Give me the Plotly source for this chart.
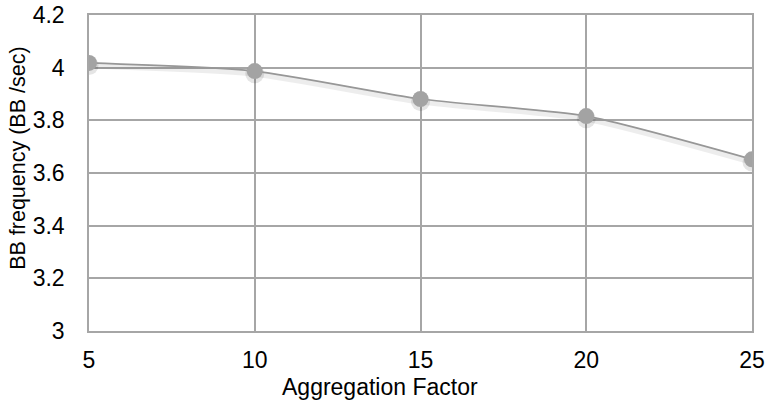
import plotly.graph_objects as go

# Aggregation factor vs. BB frequency
aggregation_factor = [5, 10, 15, 20, 25]
bb_frequency = [4.018, 3.987, 3.881, 3.816, 3.652]

y_ticks = [3, 3.2, 3.4, 3.6, 3.8, 4, 4.2]
y_tick_labels = ["3", "3.2", "3.4", "3.6", "3.8", "4", "4.2"]
x_ticks = [5, 10, 15, 20, 25]

x_title = "Aggregation Factor"
y_title = "BB frequency (BB /sec)"

grid = "#a6a6a6"
font = "Liberation Sans, Arial, sans-serif"

fig = go.Figure()

# soft drop shadow under the line and markers
fig.add_trace(go.Scatter(
    x=aggregation_factor, y=[v - 0.01 for v in bb_frequency],
    mode="lines+markers",
    line=dict(color="rgba(0,0,0,0.07)", width=6, shape="spline", smoothing=0.6),
    marker=dict(size=19, color="rgba(0,0,0,0.10)"),
    hoverinfo="skip", showlegend=False,
))

fig.add_trace(go.Scatter(
    x=aggregation_factor, y=bb_frequency,
    mode="lines+markers",
    line=dict(color="#979797", width=1.7, shape="spline", smoothing=0.6),
    marker=dict(size=16, color="#a3a3a3"),
    showlegend=False,
))

# axis titles placed as paper-anchored text
fig.add_annotation(
    text=x_title, xref="paper", yref="paper", x=0.439, y=-0.178,
    xanchor="center", yanchor="middle", showarrow=False,
    font=dict(family=font, size=23, color="#000"),
)
fig.add_annotation(
    text=y_title, xref="paper", yref="paper", x=-0.107, y=0.545,
    xanchor="center", yanchor="middle", textangle=-90, showarrow=False,
    font=dict(family=font, size=21.5, color="#000"),
)

fig.update_layout(
    width=765, height=402,
    margin=dict(l=89, r=13, t=15, b=71),
    paper_bgcolor="white", plot_bgcolor="white",
    font=dict(family=font, size=23, color="#000"),
    xaxis=dict(
        range=[5, 25], tickvals=x_ticks, showgrid=True, gridcolor=grid, gridwidth=1.5,
        zeroline=False, showline=True, linecolor=grid, linewidth=1.5, mirror=True,
        ticks="", ticklen=0, ticklabelstandoff=8, automargin=False,
    ),
    yaxis=dict(
        range=[3, 4.2], tickvals=y_ticks, ticktext=y_tick_labels,
        showgrid=True, gridcolor=grid, gridwidth=1.5,
        zeroline=False, showline=True, linecolor=grid, linewidth=1.5, mirror=True,
        ticks="", ticklen=0, ticklabelstandoff=18, automargin=False,
    ),
)

fig.write_html("out.html")
